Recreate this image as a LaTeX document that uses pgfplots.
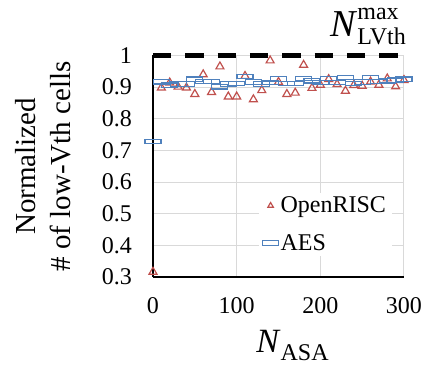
\documentclass[border=0pt]{standalone}
\usepackage{pgfplots}
\pgfplotsset{compat=1.18}
\usepackage{fontspec}
\setmainfont{Liberation Serif}
\definecolor{xred}{RGB}{192,80,77}
\definecolor{xblue}{RGB}{79,129,189}
\definecolor{xgrid}{RGB}{217,217,217}
\pgfdeclareplotmark{hrect}{\pgfpathrectangle{\pgfpoint{-8bp}{-2.2bp}}{\pgfpoint{16bp}{4.4bp}}\pgfusepathqstroke}
\begin{document}
\begin{tikzpicture}
\begin{axis}[
 scale only axis, width=251bp, height=221.5bp,
 xmin=0, xmax=300, ymin=0.3, ymax=1,
 xtick={0,100,200,300},
 ytick={0.3,0.4,0.5,0.6,0.7,0.8,0.9,1},
 /pgf/number format/assume math mode=true,
 xticklabel={\pgfmathprintnumber{\tick}},
 yticklabel={\pgfmathprintnumber{\tick}},
 major tick length=0pt,
 grid=major, major grid style={xgrid, line width=1bp},
 axis x line*=bottom, axis y line*=left,
 axis line style={black, line width=1.3bp, -},
 tick label style={font=\fontsize{24bp}{24bp}\selectfont},
 yticklabel style={inner sep=0pt, xshift=-21bp, anchor=east},
 xticklabel style={inner sep=0pt, yshift=-20bp, anchor=north},
 clip=false,
 xlabel={\textit{N}\raisebox{-8bp}{\fontsize{24bp}{24bp}\selectfont ASA}},
 xlabel style={font=\fontsize{34bp}{34bp}\selectfont, at={(axis description cs:0.5,0)}, anchor=base, yshift=-75bp, xshift=14bp, inner sep=0pt},
 ylabel={Normalized\\\# of low-Vth cells},
 ylabel style={font=\fontsize{29bp}{35bp}\selectfont, align=center, at={(axis description cs:-0.438,0.5)}, anchor=center},
 legend style={at={(axis description cs:0.42,0.38)}, anchor=north west, draw=none, fill=white,
   font=\fontsize{24bp}{24bp}\selectfont, inner xsep=4bp, inner ysep=2bp, row sep=16bp},
 legend cell align=left,
]
\addplot[only marks, mark=triangle, mark size=4.6bp, mark options={xred, line width=1.2bp},
  legend image post style={mark size=3.2bp}] coordinates {
(0,0.316)(10,0.898)(20,0.914)(30,0.901)(40,0.898)(50,0.878)(60,0.94)(70,0.884)(80,0.965)(90,0.87)(100,0.87)
(110,0.935)(120,0.861)(130,0.89)(140,0.984)(150,0.916)(160,0.878)(170,0.882)(180,0.97)(190,0.897)(200,0.907)
(210,0.925)(220,0.909)(230,0.888)(240,0.906)(250,0.904)(260,0.917)(270,0.907)(280,0.927)(290,0.902)(300,0.922)};
\addlegendentry{OpenRISC}
\addplot[only marks, mark=hrect, mark options={xblue, line width=1.1bp}] coordinates {
(0,0.729)(10,0.917)(20,0.906)(30,0.91)(40,0.91)(50,0.925)(60,0.918)(70,0.918)(80,0.901)(90,0.91)(100,0.912)
(110,0.933)(120,0.916)(130,0.91)(140,0.914)(150,0.926)(160,0.912)(170,0.912)(180,0.928)(190,0.92)(200,0.914)
(210,0.927)(220,0.914)(230,0.93)(240,0.912)(250,0.916)(260,0.931)(270,0.918)(280,0.92)(290,0.922)(300,0.925)};
\addlegendentry{AES}
\addplot[black, line width=5bp, dash pattern=on 18.5bp off 13.8bp, forget plot] coordinates {(0,1)(300,1)};
\node[anchor=base east, inner sep=0pt, font=\fontsize{38bp}{38bp}\selectfont] at (axis cs:300,1) [yshift=18.5bp, xshift=2bp]
 {\textit{N}\makebox[0pt][l]{\raisebox{17bp}{\fontsize{24bp}{24bp}\selectfont max}}\raisebox{-8bp}{\fontsize{24bp}{24bp}\selectfont LVth}};
\end{axis}
\pgfresetboundingbox
\path ([shift={(-153bp,-88bp)}]current axis.south west) rectangle ([shift={(20bp,55.5bp)}]current axis.north east);
\end{tikzpicture}
\end{document}
